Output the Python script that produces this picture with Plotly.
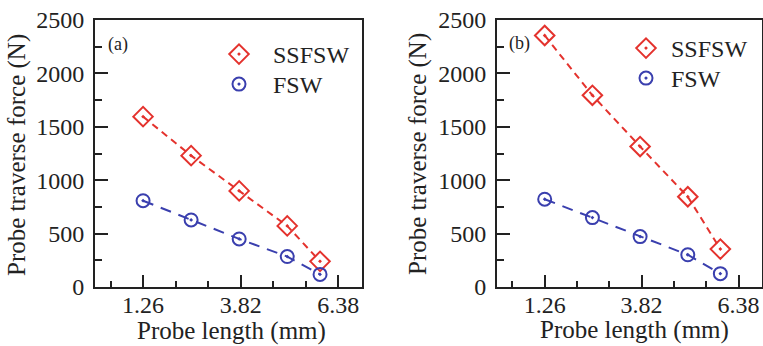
import plotly.graph_objects as go
from plotly.subplots import make_subplots

# Probe length (mm) and probe traverse force (N)
probe_length = [1.26, 2.52, 3.78, 5.04, 5.90]

force_a_ssfsw = [1595, 1230, 900, 572, 240]
force_a_fsw = [808, 628, 450, 285, 118]

force_b_ssfsw = [2355, 1795, 1315, 845, 355]
force_b_fsw = [822, 650, 472, 302, 125]

panel_labels = ["(a)", "(b)"]
series_names = ["SSFSW", "FSW"]

RED = "#e4322d"
BLUE = "#3a3fae"
FONT = "Liberation Serif"
INK = "#222222"

fig = make_subplots(rows=1, cols=2)

# one legend box per entry so that each row can be placed on its own
panels = [(force_a_ssfsw, force_a_fsw, 1, "legend", "legend2"),
          (force_b_ssfsw, force_b_fsw, 2, "legend3", "legend4")]

for ss, fs, col, leg_ss, leg_fs in panels:
    # dashed guide lines through each series
    fig.add_trace(go.Scatter(
        x=probe_length, y=ss, mode="lines", showlegend=False,
        hoverinfo="skip", line=dict(color=RED, width=2, dash="7px,5px")),
        row=1, col=col)
    fig.add_trace(go.Scatter(
        x=probe_length, y=fs, mode="lines", showlegend=False,
        hoverinfo="skip", line=dict(color=BLUE, width=2, dash="11px,8px")),
        row=1, col=col)
    # measured points
    fig.add_trace(go.Scatter(
        x=probe_length, y=ss, name=series_names[0], mode="markers",
        marker=dict(symbol="diamond-open-dot", size=15, color=RED,
                    line=dict(width=2, color=RED)),
        legend=leg_ss), row=1, col=col)
    fig.add_trace(go.Scatter(
        x=probe_length, y=fs, name=series_names[1], mode="markers",
        marker=dict(symbol="circle-open-dot", size=13, color=BLUE,
                    line=dict(width=2, color=BLUE)),
        legend=leg_fs), row=1, col=col)

H = 346.0
W = 763.0
y_dom = [1 - 287 / H, 1 - 20 / H]

axis_common = dict(
    showline=True, mirror=True, linecolor=INK, linewidth=2,
    ticks="inside", tickcolor=INK, tickwidth=2,
    showgrid=False, zeroline=False,
    tickfont=dict(family=FONT, size=24, color=INK),
)

fig.update_xaxes(**axis_common, range=[0, 7], tick0=1.26, dtick=2.56,
                 tickformat=".2f", ticklen=12, ticklabelstandoff=-5,
                 minor=dict(tick0=1.26, dtick=2.56 / 3, ticks="inside",
                            ticklen=6, tickwidth=2, tickcolor=INK))
fig.update_yaxes(**axis_common, range=[0, 2500], dtick=500, ticklen=13,
                 ticklabelstandoff=4,
                 minor=dict(dtick=250, ticks="inside", ticklen=7,
                            tickwidth=2, tickcolor=INK))

fig.update_layout(
    xaxis=dict(domain=[95 / W, 362 / W]),
    xaxis2=dict(domain=[497 / W, 762 / W]),
    yaxis=dict(domain=y_dom),
    yaxis2=dict(domain=y_dom),
)

title_font = dict(family=FONT, size=25, color=INK)
ann = []
# axis titles
for xc, yc in [(17, 155), (418, 154)]:
    ann.append(dict(text="Probe traverse force (N)", x=xc / W, y=1 - yc / H,
                    xref="paper", yref="paper", showarrow=False,
                    textangle=-90, font=title_font,
                    xanchor="center", yanchor="middle"))
for xc, yc in [(231, 331), (634, 330)]:
    ann.append(dict(text="Probe length (mm)", x=xc / W, y=1 - yc / H,
                    xref="paper", yref="paper", showarrow=False,
                    font=title_font, xanchor="center", yanchor="middle"))
# panel tags
for lab, xc, yc in zip(panel_labels, [118, 519], [44, 43]):
    ann.append(dict(text=lab, x=xc / W, y=1 - yc / H, xref="paper",
                    yref="paper", showarrow=False,
                    font=dict(family=FONT, size=18, color=INK),
                    xanchor="center", yanchor="middle"))

legend_style = dict(font=dict(family=FONT, size=24, color=INK),
                    bgcolor="rgba(0,0,0,0)", borderwidth=0,
                    xanchor="left", yanchor="top")

fig.update_layout(
    width=763, height=346,
    margin=dict(l=0, r=0, t=0, b=0, autoexpand=False),
    paper_bgcolor="white", plot_bgcolor="white",
    annotations=ann,
    showlegend=True,
    legend=dict(**legend_style, x=205 / W, y=1 - 32 / H, itemwidth=58),
    legend2=dict(**legend_style, x=205 / W, y=1 - 62 / H, itemwidth=58),
    legend3=dict(**legend_style, x=621 / W, y=1 - 26 / H, itemwidth=40),
    legend4=dict(**legend_style, x=621 / W, y=1 - 56 / H, itemwidth=40),
)

fig.write_html("out.html")
